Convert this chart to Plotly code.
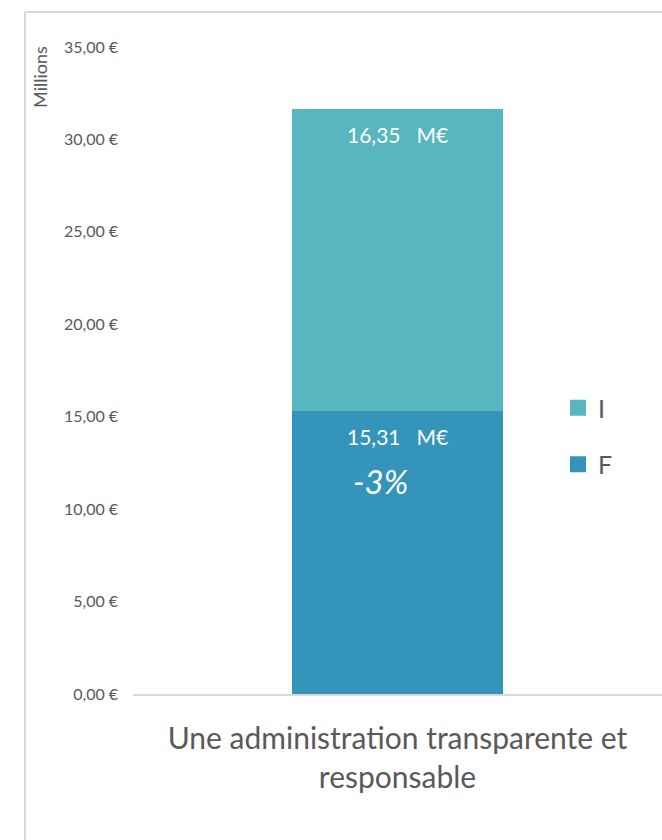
import plotly.graph_objects as go

# Budget split for one programme (millions of euros)
categories = ["Une administration transparente et<br>responsable"]
series_names = ["F", "I"]
series_values = {"F": [15.31], "I": [16.35]}
series_colors = {"F": "#3494BA", "I": "#58B6C0"}
change_label = "-3%"
y_ticks = [0, 5, 10, 15, 20, 25, 30, 35]
y_tick_labels = [f"{v:.2f}".replace(".", ",") + "\u202f€" for v in y_ticks]

FONT = "Lato, Open Sans, sans-serif"
GREY = "#595959"

fig = go.Figure()
for name in series_names:
    fig.add_trace(go.Bar(
        x=categories, y=series_values[name], name=name,
        marker=dict(color=series_colors[name], line=dict(width=0)),
        width=0.4, showlegend=False, hoverinfo="skip",
    ))

# legend entries with larger square swatches, top series listed first
for name in reversed(series_names):
    fig.add_trace(go.Scatter(
        x=[None], y=[None], mode="markers", name=name, legendgroup=name,
        marker=dict(symbol="square", size=16, color=series_colors[name], line=dict(width=0)),
    ))

# value labels at the top of each stacked segment
base = 0
annotations = []
for name in series_names:
    for cat, v in zip(categories, series_values[name]):
        top = base + v
        annotations.append(dict(
            x=cat, y=top, xref="x", yref="y", yanchor="top", yshift=-11,
            text=f"{v:.2f}".replace(".", ",") + "   M€", showarrow=False,
            font=dict(family=FONT, size=21, color="white"),
        ))
    if name == "F":
        annotations.append(dict(
            x=categories[0], y=top, xref="x", yref="y", yanchor="top", yshift=-48, xshift=-17,
            text=f"<i>{change_label}</i>", showarrow=False,
            font=dict(family=FONT, size=33, color="white"),
        ))
    base += series_values[name][0]

annotations.append(dict(
    x=-0.176, y=1.0, xref="paper", yref="paper", xanchor="center", yanchor="top",
    yshift=3, text="Millions", textangle=-90, showarrow=False,
    font=dict(family=FONT, size=18, color=GREY),
))

L, T, B, W, H = 133, 47, 146, 662, 840
pw, ph = W - L, H - T - B


def px(x):
    return (x - L) / pw


def py(y):
    return (H - B - y) / ph


shapes = [
    dict(type="line", xref="paper", yref="paper", x0=px(25), x1=px(25), y0=py(840), y1=py(12),
         line=dict(color="#D9D9D9", width=2)),
    dict(type="line", xref="paper", yref="paper", x0=px(25), x1=px(670), y0=py(12), y1=py(12),
         line=dict(color="#D9D9D9", width=2)),
]

fig.update_layout(
    barmode="stack",
    width=W, height=H,
    margin=dict(l=L, r=0, t=T, b=B, autoexpand=False),
    paper_bgcolor="white", plot_bgcolor="white",
    font=dict(family=FONT, color=GREY),
    annotations=annotations,
    shapes=shapes,
    legend=dict(
        x=px(558), y=py(385), xanchor="left", yanchor="top",
        traceorder="grouped", tracegroupgap=21,
        font=dict(family=FONT, size=25, color=GREY),
        bgcolor="rgba(0,0,0,0)",
    ),
    xaxis=dict(
        showline=True, linecolor="#D9D9D9", linewidth=1.5, ticks="",
        tickfont=dict(family=FONT, size=30, color=GREY), ticklabelstandoff=17,
        showgrid=False, fixedrange=True,
    ),
    yaxis=dict(
        range=[0, 35], tickvals=y_ticks, ticktext=y_tick_labels,
        tickfont=dict(family=FONT, size=16, color=GREY), ticklabelstandoff=14,
        showgrid=False, zeroline=False, showline=False, fixedrange=True,
    ),
)

fig.write_html("out.html")
